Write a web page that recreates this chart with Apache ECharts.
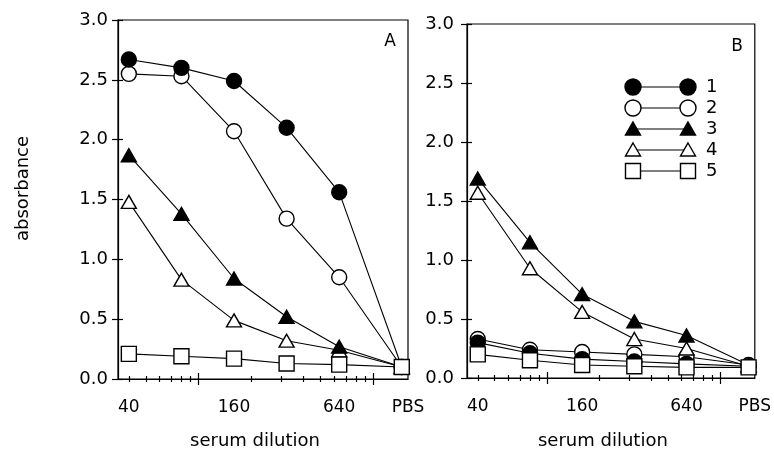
<!DOCTYPE html>
<html lang="en">
<head>
<meta charset="UTF-8">
<title>absorbance / serum dilution</title>
<script src="https://cdn.jsdelivr.net/npm/echarts@6/dist/echarts.min.js"></script>
</head>
<body style="margin:0;background:#fff">
<div id="main" style="width:774px;height:455px;"></div>
<script>
// x categories (serum dilution); PBS is drawn at the right end of the log axis
var dilutions = [40, 80, 160, 320, 640, 'PBS'];
var pbsDilution = 1460;
var xLabelValues = [40, 160, 640];
var minorTickValues = [40, 50, 60, 70, 80, 90, 200, 300, 400, 500, 600, 700, 800, 900];
var majorTickValues = [100, 1000];
var seriesNames = ['1', '2', '3', '4', '5'];

// panel A
var a1 = [2.67, 2.60, 2.49, 2.10, 1.56, 0.10];
var a2 = [2.55, 2.53, 2.07, 1.34, 0.85, 0.10];
var a3 = [1.87, 1.38, 0.84, 0.52, 0.27, 0.10];
var a4 = [1.48, 0.83, 0.49, 0.32, 0.24, 0.10];
var a5 = [0.21, 0.19, 0.17, 0.13, 0.12, 0.10];

// panel B
var b1 = [0.30, 0.21, 0.16, 0.14, 0.12, 0.10];
var b2 = [0.33, 0.24, 0.22, 0.20, 0.18, 0.11];
var b3 = [1.69, 1.15, 0.71, 0.48, 0.36, 0.11];
var b4 = [1.57, 0.93, 0.56, 0.33, 0.25, 0.10];
var b5 = [0.20, 0.15, 0.11, 0.10, 0.09, 0.09];

var myChart = echarts.init(document.getElementById('main'));

var FONT = 'DejaVu Sans';
var xMin = 1.54, xMax = 3.20;
var symbols = ['circle', 'circle', 'triangle', 'triangle', 'rect'];
var filled = [true, false, true, false, false];
var sizes = [15, 15, [15, 13], [15, 13], 15];
var drawOrder = [1, 0, 3, 2, 4];

function lg(v) { return Math.log10(v); }

// three x axes per grid: line + labels, short crossing ticks, long crossing ticks
function xAxesFor(g, nameGap) {
    var base = { type: 'value', gridIndex: g, position: 'bottom', min: xMin, max: xMax,
        splitLine: { show: false } };
    return [
        Object.assign({}, base, {
            name: 'serum dilution', nameLocation: 'middle', nameGap: nameGap,
            nameTextStyle: { fontFamily: FONT, fontSize: 18, color: '#000', padding: [0, 16, 0, 0] },
            axisLine: { onZero: false, lineStyle: { color: '#000', width: 1.2 } },
            axisTick: { show: false },
            axisLabel: {
                customValues: xLabelValues.map(lg).concat([xMax]),
                margin: 20, fontFamily: FONT, fontSize: 17, color: '#000',
                formatter: function (v) {
                    return Math.abs(v - xMax) < 1e-6 ? 'PBS' : String(Math.round(Math.pow(10, v)));
                }
            }
        }),
        Object.assign({}, base, {
            offset: -3, axisLine: { show: false, onZero: false }, axisLabel: { show: false },
            axisTick: { customValues: minorTickValues.map(lg), length: 6, lineStyle: { color: '#000', width: 1.2 } }
        }),
        Object.assign({}, base, {
            offset: -6, axisLine: { show: false, onZero: false }, axisLabel: { show: false },
            axisTick: { customValues: majorTickValues.map(lg), length: 12, lineStyle: { color: '#000', width: 1.2 } }
        })
    ];
}

function yAxesFor(g, margin, withName) {
    var base = { type: 'value', gridIndex: g, position: 'left', min: 0, max: 3, interval: 0.5,
        splitLine: { show: false } };
    var main = Object.assign({}, base, {
        axisLine: { show: true, onZero: false, lineStyle: { color: '#000', width: 1.2 } },
        axisTick: { show: false },
        axisLabel: { margin: margin, fontFamily: FONT, fontSize: 18, color: '#000',
            formatter: function (v) { return v.toFixed(1); } }
    });
    if (withName) {
        main.name = 'absorbance';
        main.nameLocation = 'middle';
        main.nameGap = 86;
        main.nameTextStyle = { fontFamily: FONT, fontSize: 18, color: '#000', padding: [0, 0, 0, 22] };
    }
    return [main, Object.assign({}, base, {
        offset: -5, axisLine: { show: false, onZero: false }, axisLabel: { show: false },
        axisTick: { length: 11, lineStyle: { color: '#000', width: 1.2 } }
    })];
}

function makeSeries(vals, k, panel) {
    return {
        type: 'line',
        name: seriesNames[k],
        xAxisIndex: panel * 3,
        yAxisIndex: panel * 2,
        data: dilutions.map(function (d, i) {
            return [lg(d === 'PBS' ? pbsDilution : d), vals[i]];
        }),
        symbol: symbols[k],
        symbolSize: sizes[k],
        itemStyle: { color: filled[k] ? '#000' : '#fff', borderColor: '#000', borderWidth: 1.4 },
        lineStyle: { color: '#000', width: 1.1 },
        emphasis: { disabled: true }
    };
}

var panels = [[a1, a2, a3, a4, a5], [b1, b2, b3, b4, b5]];
var series = [];
panels.forEach(function (p, pi) {
    drawOrder.forEach(function (k) { series.push(makeSeries(p[k], k, pi)); });
});

// legend drawn by hand (symbol - line - symbol, then the number)
var legendRows = [87, 108, 129, 150, 171];
var legendItems = [];
function symbolShape(k, cx, cy) {
    var style = { fill: filled[k] ? '#000' : '#fff', stroke: '#000', lineWidth: 1.4 };
    if (symbols[k] === 'circle') return { type: 'circle', shape: { cx: cx, cy: cy, r: 8 }, style: style };
    if (symbols[k] === 'triangle') return { type: 'polygon', shape: { points: [[cx, cy - 7], [cx + 7.5, cy + 6], [cx - 7.5, cy + 6]] }, style: style };
    return { type: 'rect', shape: { x: cx - 7.5, y: cy - 7.5, width: 15, height: 15 }, style: style };
}
legendRows.forEach(function (y, k) {
    legendItems.push({ type: 'line', shape: { x1: 633, y1: y, x2: 688, y2: y }, style: { stroke: '#000', lineWidth: 1.2 } });
    legendItems.push(symbolShape(k, 633, y));
    legendItems.push(symbolShape(k, 688, y));
    legendItems.push({ type: 'text', x: 706, y: y, style: { text: seriesNames[k], fontFamily: FONT, fontSize: 18, fill: '#000', verticalAlign: 'middle' } });
});

option = {
    animation: false,
    backgroundColor: '#fff',
    grid: [
        { left: 118, top: 20, width: 290, height: 359, show: true, borderColor: '#000', borderWidth: 1.2 },
        { left: 467, top: 24, width: 288, height: 358, show: true, borderColor: '#000', borderWidth: 1.2 }
    ],
    xAxis: xAxesFor(0, 53).concat(xAxesFor(1, 54)),
    yAxis: yAxesFor(0, 10, true).concat(yAxesFor(1, 13, false)),
    series: series,
    graphic: [
        { type: 'text', x: 390, y: 42, style: { text: 'A', fontFamily: FONT, fontSize: 17, fill: '#000', align: 'center', verticalAlign: 'middle' } },
        { type: 'text', x: 737, y: 47, style: { text: 'B', fontFamily: FONT, fontSize: 17, fill: '#000', align: 'center', verticalAlign: 'middle' } }
    ].concat(legendItems)
};

myChart.setOption(option);
</script>
</body>
</html>
